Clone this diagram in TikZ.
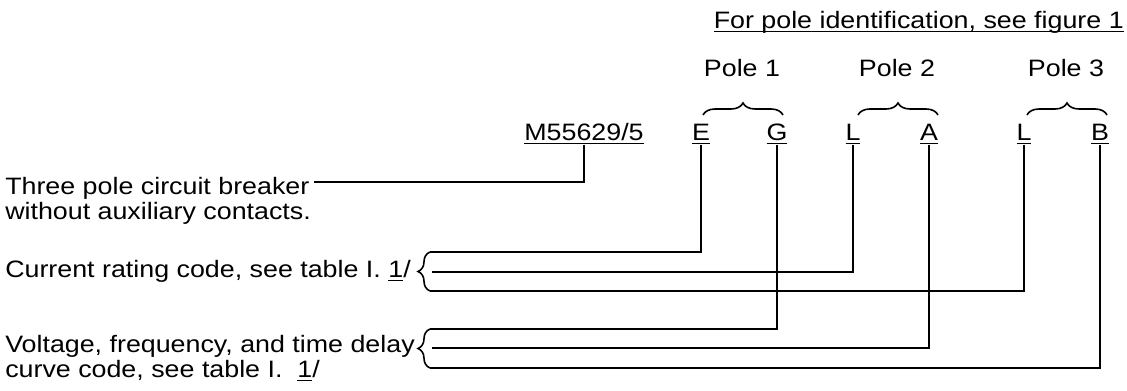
\documentclass[tikz,border=0pt]{standalone}
\usepackage{fontspec}
\setmainfont{Liberation Sans}[FakeStretch=1.13]
\usepackage{tikz}
\tikzset{every picture/.style={font issue=\fontsize{17.8}{18.8}},
         font issue/.style={execute at begin picture={#1\selectfont}}
        }
\usetikzlibrary{decorations.pathreplacing}
\usetikzlibrary{positioning}
\newcommand{\ulmark}[1]{\setbox0\hbox{#1}\rlap{\rule[-2.6pt]{\wd0}{1.3pt}}\box0}
\tikzstyle{code}=[inner sep=0,anchor=base]
\tikzstyle{note}=[inner sep=0,anchor=base west,align=left]
\tikzstyle{lead}=[draw,black,line width=1.4pt]
\tikzstyle{grp}=[draw,black,line width=1.2pt,decorate,decoration={brace,amplitude=9pt}]

\begin{document}
\begin{tikzpicture}[x=0.75pt,y=-0.75pt]
\useasboundingbox (0,0) rectangle (1127,391);

	\node[code,anchor=base east] (fig) at (1124,29) {\ulmark{For pole identification, see figure 1}};

% poles
	\coordinate (p1l) at (703,115);
	\coordinate (p1r) at (783,115);
	\coordinate (p2l) at (858,115);
	\coordinate (p2r) at (938,115);
	\coordinate (p3l) at (1027,115);
	\coordinate (p3r) at (1107,115);
	\path[grp] (p1l) -- (p1r);
	\path[grp] (p2l) -- (p2r);
	\path[grp] (p3l) -- (p3r);
	\node[code] (pole1) at (742,77) {Pole 1};
	\node[code] (pole2) at (897,77) {Pole 2};
	\node[code] (pole3) at (1066,77) {Pole 3};

% part number
	\node[code] (mil) at (584,141) {\ulmark{M55629/5}};
	\node[code] (e1) at (701,141) {\ulmark{E}};
	\node[code] (g1) at (777,141) {\ulmark{G}};
	\node[code] (l2) at (853,141) {\ulmark{L}};
	\node[code] (a2) at (929,141) {\ulmark{A}};
	\node[code] (l3) at (1024,141) {\ulmark{L}};
	\node[code] (b3) at (1100,141) {\ulmark{B}};

% notes (base = last line)
	\node[note] (brk) at (5,220) {Three pole circuit breaker\\without auxiliary contacts.};
	\node[note] (cur) at (5,278) {Current rating code, see table I. \ulmark{1}/};
	\node[note] (vfd) at (5,378) {Voltage, frequency, and time delay\\curve code, see table I.\ \ \ulmark{1}/};

	\coordinate (brkend) at (314,182);
	\coordinate (c1t) at (430,252);
	\coordinate (c1m) at (432,272);
	\coordinate (c1b) at (430,291);
	\coordinate (c2t) at (430,329);
	\coordinate (c2m) at (432,348);
	\coordinate (c2b) at (430,368);
	\path[grp] (c1b) -- (c1t);
	\path[grp] (c2b) -- (c2t);

	\path[lead] (mil.south) |- (brkend);
	\path[lead] (e1.south) |- (c1t);
	\path[lead] (l2.south) |- (c1m);
	\path[lead] (l3.south) |- (c1b);
	\path[lead] (g1.south) |- (c2t);
	\path[lead] (a2.south) |- (c2m);
	\path[lead] (b3.south) |- (c2b);
\end{tikzpicture}
\end{document}
